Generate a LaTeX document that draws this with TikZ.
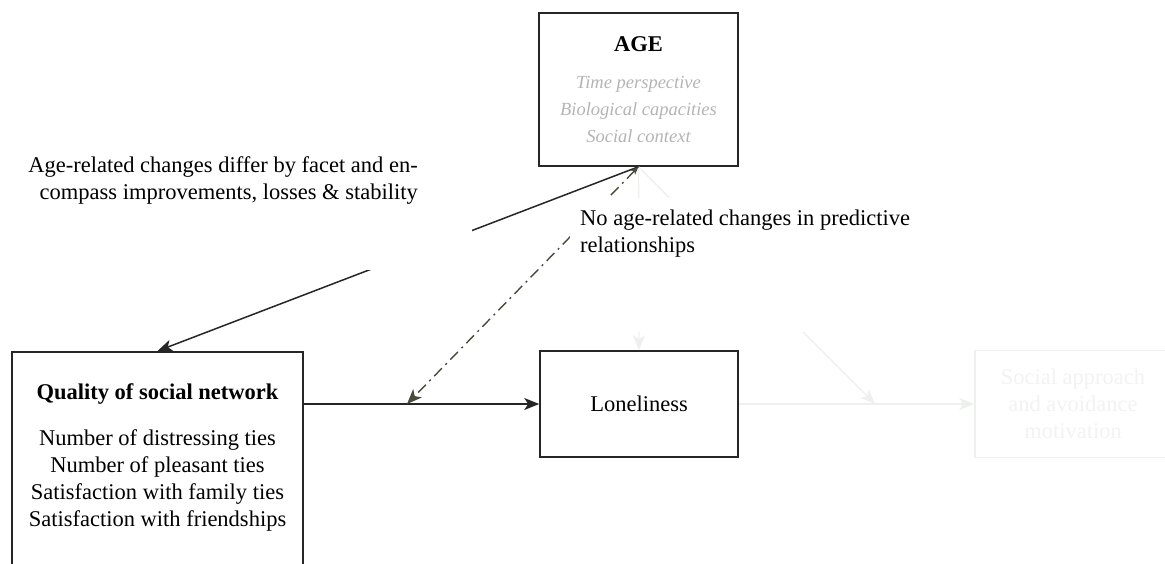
\documentclass[tikz,border=0pt]{standalone}
\usepackage{fontspec}
\setmainfont{Liberation Serif}
\usetikzlibrary{arrows.meta}
\definecolor{frame}{HTML}{262626}
\definecolor{olive}{HTML}{4A4A3A}
\definecolor{faint}{HTML}{EEF0EE}
\definecolor{fainttext}{HTML}{F2F2F2}
\definecolor{facet}{HTML}{B4B4B4}
\newcommand{\facetline}[1]{{\color{facet}\fontsize{18.5}{26.5}\selectfont\itshape #1}}
\begin{document}
\begin{tikzpicture}[x=1pt,y=-1pt,
  txt/.style={font=\fontsize{22.5}{27}\selectfont},
  boxnode/.style={draw=frame, line width=1.5pt, inner sep=0pt, align=center, txt},
  fadedbox/.style={draw=faint, line width=1.5pt, inner sep=0pt, align=center, txt, text=fainttext},
  mainarrow/.style={draw=frame, line width=1.5pt, -{Stealth[length=15pt,width=12pt,inset=4pt]}},
  modarrow/.style={draw=olive, line width=1.4pt, dash pattern=on 11pt off 5pt on 2pt off 5pt,
    {Stealth[length=8pt,width=6pt,inset=2pt]}-{Stealth[length=15pt,width=12pt,inset=4pt]}},
  fadedarrow/.style={draw=faint, line width=1.4pt, -{Stealth[length=15pt,width=12pt,inset=4pt]}},
  pathlabel/.style={txt, inner sep=0pt}
]
\useasboundingbox (0,0) rectangle (1165,563);
\clip (0,0) rectangle (1165,563);

% boxes
\node[boxnode, minimum width=199pt, minimum height=153pt] (age) at (638.5,89.5)
  {\textbf{AGE}\\[10pt]
   \facetline{Time perspective}\\\facetline{Biological capacities}\\\facetline{Social context}};
\node[boxnode, anchor=north, minimum width=291pt, minimum height=260pt] (quality) at (157.5,351) {};
\node[txt, align=center, anchor=north, inner sep=0pt] (qualitytext) at ([yshift=-32pt]quality.north)
  {\textbf{Quality of social network}\\[19pt]
   Number of distressing ties\\Number of pleasant ties\\Satisfaction with family ties\\Satisfaction with friendships};
\node[boxnode, minimum width=198pt, minimum height=106pt] (lonely) at (639,404) {Loneliness};
\node[fadedbox, minimum width=196pt, minimum height=107pt] (social) at (1073,404)
  {Social approach\\and avoidance\\motivation};

% points on the paths where age acts as a moderator
\coordinate (modnet) at (407,404);
\coordinate (modmot) at (875,404);

% connectors
\draw[fadedarrow] (age.south) -- (lonely.north);
\draw[fadedarrow] (age.south) -- (modmot);
\draw[fadedarrow] (lonely.east) -- (social.west);
\draw[mainarrow] (quality.north east |- lonely.west) -- (lonely.west);
\draw[mainarrow] (age.south) -- (quality.north);
\draw[modarrow] (age.south) -- (modnet);

% white backgrounds behind the path labels
\fill[white] (20,140) rectangle (472,270);
\fill[white] (570,198) rectangle (925,332);

% path labels
\node[pathlabel, align=right, anchor=east] (lblchange) at (418,181)
  {Age-related changes differ by facet and en-\\compass improvements, losses \& stability};
\node[pathlabel, align=left, anchor=west] (lblstable) at (580,234)
  {No age-related changes in predictive\\relationships};
\end{tikzpicture}
\end{document}
